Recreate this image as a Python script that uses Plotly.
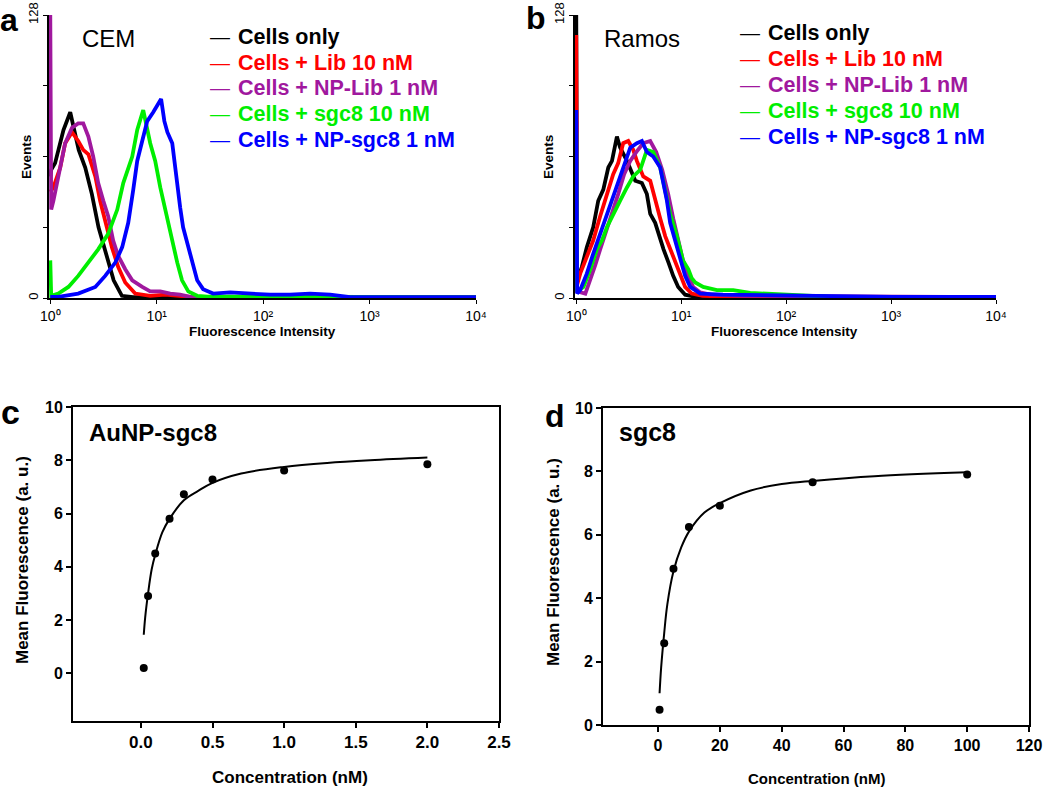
import plotly.graph_objects as go

# ---------------- Data ----------------
SERIES_NAMES = ["Cells only", "Cells + Lib 10 nM", "Cells + NP-Lib 1 nM",
                "Cells + sgc8 10 nM", "Cells + NP-sgc8 1 nM"]
SERIES_COLORS = ["#000000", "#ff0000", "#a0189e", "#00ee00", "#0000ff"]

# Panel a (CEM) histograms: fluorescence intensity vs events
A_X_BLACK = [1.0, 1.02, 1.11, 1.24, 1.33, 1.54, 1.85, 2.13, 2.46, 2.84, 3.28, 3.94, 4.71, 6.0, 10000]
A_Y_BLACK = [55, 58, 61, 70, 76, 84, 67, 59, 47, 32, 22, 8, 1, 0.4, 0.4]
A_X_RED = [1.0, 1.07, 1.24, 1.38, 1.60, 1.83, 2.04, 2.28, 2.65, 2.94, 3.40, 3.79, 4.35, 5.06, 6.28, 8.69, 12.0, 17.0, 22.0, 10000]
A_Y_RED = [48, 50, 59, 70, 75, 71, 67, 65, 55, 44, 32, 23, 14, 7, 2, 1, 1.5, 1, 0.4, 0.4]
A_X_PURPLE = [1.0, 1.02, 1.07, 1.19, 1.38, 1.60, 1.83, 2.04, 2.28, 2.53, 2.82, 3.15, 3.50, 3.90, 4.35, 5.06, 5.89, 7.31, 8.69, 10.8, 13.4, 16.6, 20.6, 10000]
A_Y_PURPLE = [128, 40, 44, 55, 70, 77, 79, 79, 73, 64, 52, 44, 37, 26, 19, 13, 8, 5, 3, 3, 2, 1.5, 0.5, 0.4]
A_X_GREEN = [1.0, 1.02, 1.19, 1.48, 1.83, 2.28, 2.82, 3.50, 4.26, 4.85, 5.89, 6.56, 7.47, 8.69, 9.68, 10.8, 11.5, 12.6, 14.0, 15.6, 17.3, 19.8, 24.0, 30.0, 10000]
A_Y_GREEN = [17, 1, 2, 5, 10, 16, 22, 29, 40, 52, 64, 76, 85, 70, 62, 50, 44, 35, 26, 16, 8, 3, 1, 0.6, 0.4]
A_X_BLUE = [1.0, 1.19, 1.83, 2.65, 3.28, 4.08, 4.74, 5.40, 6.02, 6.56, 7.31, 8.15, 9.27, 11.0, 11.8, 12.6, 14.0, 15.6, 16.6, 17.7, 19.8, 21.5, 24.0, 27.3, 33.9, 49, 75.5, 116, 179, 276, 426, 564, 656, 10000]
A_Y_BLUE = [0.5, 0.5, 2, 5, 10, 16, 23, 34, 49, 62, 71, 80, 84, 90, 80, 75, 70, 50, 41, 32, 23, 16, 8, 4, 2, 2.5, 2, 1.5, 1.5, 2, 1.5, 1, 0.4, 0.4]

# Panel b (Ramos) histograms
B_X_BLACK = [1.0, 1.02, 1.13, 1.26, 1.45, 1.62, 1.81, 2.02, 2.19, 2.44, 2.62, 3.04, 3.65, 4.22, 4.71, 5.07, 5.65, 6.31, 6.79, 7.57, 8.39, 9.36, 10.9, 14, 10000]
B_Y_BLACK = [128, 8, 14, 23, 32, 44, 49, 59, 62, 73, 68, 62, 53, 52, 47, 38, 34, 26, 22, 16, 10, 5, 1.5, 0.4, 0.4]
B_X_RED = [1.0, 1.02, 1.09, 1.26, 1.45, 1.69, 1.96, 2.25, 2.51, 2.80, 3.13, 3.49, 3.78, 4.35, 5.07, 5.65, 6.31, 7.04, 7.85, 8.77, 9.78, 10.9, 12.6, 16, 30, 10000]
B_Y_RED = [119, 6, 11, 19, 26, 37, 47, 56, 61, 70, 71, 67, 62, 55, 53, 44, 36, 28, 22, 16, 10, 5, 2, 1, 0.5, 0.4]
B_X_PURPLE = [1.0, 1.02, 1.22, 1.36, 1.52, 1.69, 1.93, 2.20, 2.51, 2.86, 3.27, 3.73, 4.35, 5.07, 5.78, 6.59, 7.52, 8.39, 9.36, 10.4, 11.7, 13.0, 15.2, 18.9, 40, 150, 300, 10000]
B_Y_PURPLE = [80, 3, 2, 8, 15, 22, 30, 38, 47, 56, 62, 66, 70, 71, 66, 58, 47, 36, 26, 17, 10, 5, 2.5, 1.5, 1, 0.8, 0.5, 0.4]
B_X_GREEN = [1.0, 1.02, 1.17, 1.36, 1.57, 1.76, 1.96, 2.25, 2.62, 3.04, 3.49, 4.07, 4.71, 5.41, 6.31, 7.31, 7.85, 9.10, 9.78, 10.4, 11.7, 12.6, 13.6, 16.2, 21.9, 31.3, 45.4, 93.5, 136, 250, 10000]
B_Y_GREEN = [75, 3, 5, 13, 22, 26, 32, 38, 44, 50, 55, 58, 67, 66, 59, 45, 38, 28, 22, 17, 13, 9, 7, 5, 3.6, 3.6, 2.3, 1.5, 1, 0.6, 0.4]
B_X_BLUE = [1.0, 1.02, 1.09, 1.26, 1.45, 1.69, 1.96, 2.25, 2.62, 2.93, 3.27, 3.78, 4.22, 4.71, 5.41, 6.31, 7.31, 7.85, 8.77, 9.36, 10.2, 10.9, 12.2, 15.2, 25, 60, 150, 400, 1000, 10000]
B_Y_BLUE = [85, 2, 3.6, 11, 20, 29, 38, 47, 55, 62, 68, 70, 71, 66, 64, 59, 44, 34, 26, 20, 14, 10, 5, 2, 1.5, 1.2, 1, 0.7, 0.5, 0.5]

HIST_TICKVALS = [1, 10, 100, 1000, 10000]
HIST_TICKTEXT = ["10\u2070", "10\u00b9", "10\u00b2", "10\u00b3", "10\u2074"]
EVENT_TICKVALS = [0, 128]
EVENT_TICKTEXT = ["0", "128"]
EVENT_MINOR_TICKS = [32, 64, 96]

# Panel c (AuNP-sgc8) binding data and fitted curve
C_CONC = [0.02, 0.05, 0.1, 0.2, 0.3, 0.5, 1.0, 2.0]
C_FLUOR = [0.2, 2.9, 4.5, 5.8, 6.72, 7.28, 7.62, 7.85]
C_FIT_X = [0.02, 0.03, 0.05, 0.075, 0.1, 0.15, 0.2, 0.3, 0.4, 0.5, 0.7, 1.0, 1.3, 1.6, 2.0]
C_FIT_Y = [1.45, 2.1, 3.0, 3.9, 4.45, 5.3, 5.8, 6.5, 6.85, 7.15, 7.5, 7.75, 7.9, 8.0, 8.1]
C_XTICKS = [0.0, 0.5, 1.0, 1.5, 2.0, 2.5]
C_XTICKTEXT = ["0.0", "0.5", "1.0", "1.5", "2.0", "2.5"]

# Panel d (sgc8) binding data and fitted curve
D_CONC = [0.5, 2, 5, 10, 20, 50, 100]
D_FLUOR = [0.48, 2.58, 4.93, 6.25, 6.92, 7.66, 7.9]
D_FIT_X = [0.5, 1, 2, 3, 5, 7.5, 10, 15, 20, 30, 40, 50, 70, 100]
D_FIT_Y = [1.0, 1.8, 2.9, 3.8, 4.85, 5.6, 6.1, 6.7, 7.0, 7.4, 7.6, 7.7, 7.85, 7.97]
D_XTICKS = [0, 20, 40, 60, 80, 100, 120]
FL_YTICKS = [0, 2, 4, 6, 8, 10]

# ---------------- Figure ----------------
W, H = 1050, 789
def px_x(a, b):
    return [a / W, b / W]
def px_y(top, bottom):
    return [1 - bottom / H, 1 - top / H]

fig = go.Figure()

hist_a = [(A_X_BLACK, A_Y_BLACK), (A_X_RED, A_Y_RED), (A_X_PURPLE, A_Y_PURPLE),
          (A_X_GREEN, A_Y_GREEN), (A_X_BLUE, A_Y_BLUE)]
hist_b = [(B_X_BLACK, B_Y_BLACK), (B_X_RED, B_Y_RED), (B_X_PURPLE, B_Y_PURPLE),
          (B_X_GREEN, B_Y_GREEN), (B_X_BLUE, B_Y_BLUE)]

for (xs, ys), name, col in zip(hist_a, SERIES_NAMES, SERIES_COLORS):
    fig.add_trace(go.Scatter(x=xs, y=ys, mode="lines", name=name,
                             line=dict(color=col, width=3.8),
                             xaxis="x", yaxis="y", showlegend=False))
for (xs, ys), name, col in zip(hist_b, SERIES_NAMES, SERIES_COLORS):
    fig.add_trace(go.Scatter(x=xs, y=ys, mode="lines", name=name,
                             line=dict(color=col, width=3.8),
                             xaxis="x2", yaxis="y2", showlegend=False))

fig.add_trace(go.Scatter(x=C_FIT_X, y=C_FIT_Y, mode="lines", line=dict(color="black", width=2, shape="spline"),
                         xaxis="x3", yaxis="y3", showlegend=False))
fig.add_trace(go.Scatter(x=C_CONC, y=C_FLUOR, mode="markers", marker=dict(color="black", size=8),
                         xaxis="x3", yaxis="y3", showlegend=False))
fig.add_trace(go.Scatter(x=D_FIT_X, y=D_FIT_Y, mode="lines", line=dict(color="black", width=2, shape="spline"),
                         xaxis="x4", yaxis="y4", showlegend=False))
fig.add_trace(go.Scatter(x=D_CONC, y=D_FLUOR, mode="markers", marker=dict(color="black", size=8),
                         xaxis="x4", yaxis="y4", showlegend=False))

SANS = "Liberation Sans, Arial, sans-serif"
NARROW = "Liberation Sans Narrow, Arial Narrow, Liberation Sans, Arial, sans-serif"

hist_x_common = dict(type="log", range=[-0.012, 4], showline=True, linecolor="black", linewidth=1.5,
                     ticks="outside", ticklen=4, tickcolor="black", tickvals=HIST_TICKVALS,
                     ticktext=HIST_TICKTEXT, tickfont=dict(family=NARROW, size=14, color="black"),
                     showgrid=False, zeroline=False, layer="below traces", automargin=False)
hist_y_common = dict(range=[0, 128], showline=True, linecolor="black", linewidth=1.5,
                     ticks="outside", ticklen=4, tickcolor="black", tickvals=EVENT_TICKVALS,
                     ticktext=EVENT_TICKTEXT, tickangle=-90,
                     minor=dict(tickvals=EVENT_MINOR_TICKS, ticks="outside", ticklen=4, tickcolor="black"),
                     tickfont=dict(family=NARROW, size=13, color="black"),
                     showgrid=False, zeroline=False, layer="below traces", automargin=False)
fit_x_common = dict(showline=True, linecolor="black", linewidth=2, mirror=True,
                    ticks="outside", ticklen=5, tickcolor="black", tickwidth=1.5,
                    showgrid=False, zeroline=False, automargin=False)
fit_y_common = dict(showline=True, linecolor="black", linewidth=2, mirror=True,
                    ticks="outside", ticklen=5, tickcolor="black", tickwidth=1.5,
                    showgrid=False, zeroline=False, tickvals=FL_YTICKS, automargin=False)

fig.update_layout(
    width=W, height=H, margin=dict(l=0, r=0, t=0, b=0, autoexpand=False),
    paper_bgcolor="white", plot_bgcolor="white", showlegend=False,
    xaxis=dict(domain=px_x(49, 476), anchor="y", **hist_x_common),
    yaxis=dict(domain=px_y(15, 298), anchor="x", **hist_y_common),
    xaxis2=dict(domain=px_x(575, 996), anchor="y2", **hist_x_common),
    yaxis2=dict(domain=px_y(15, 298), anchor="x2", **hist_y_common),
    xaxis3=dict(domain=px_x(73, 499), anchor="y3", range=[-0.474, 2.5], tickvals=C_XTICKS,
                ticktext=C_XTICKTEXT, tickfont=dict(family=SANS, size=17, color="black", weight="bold"),
                **fit_x_common),
    yaxis3=dict(domain=px_y(407, 721), anchor="x3", range=[-1.79, 10],
                tickfont=dict(family=SANS, size=16, color="black", weight="bold"), **fit_y_common),
    xaxis4=dict(domain=px_x(603, 1029), anchor="y4", range=[-17.8, 120], tickvals=D_XTICKS,
                tickfont=dict(family=SANS, size=16, color="black", weight="bold"), **fit_x_common),
    yaxis4=dict(domain=px_y(408, 725), anchor="x4", range=[0, 10],
                tickfont=dict(family=SANS, size=16, color="black", weight="bold"), **fit_y_common),
)

ann = []
def text(x, y, s, size, bold=False, family=SANS, color="black", xanchor="center", angle=0):
    ann.append(dict(x=x / W, y=1 - y / H, xref="paper", yref="paper", text=s, showarrow=False,
                    xanchor=xanchor, yanchor="middle", textangle=angle, borderpad=0,
                    font=dict(family=family, size=size, color=color, weight="bold" if bold else "normal")))

# panel letters
text(9, 20, "a", 32, bold=True)
text(536, 18, "b", 32, bold=True)
text(10, 412, "c", 34, bold=True)
text(555, 416, "d", 32, bold=True)

# cell-line labels
text(81, 38, "CEM", 24, xanchor="left")
text(603, 38, "Ramos", 24, xanchor="left")

# legends
rows_a = [37, 63, 88, 114, 140]
rows_b = [33, 59, 85, 111, 137]
for name, col, ya, yb in zip(SERIES_NAMES, SERIES_COLORS, rows_a, rows_b):
    text(220, ya, "\u2014", 20, color=col)
    text(237, ya, name, 21.5, bold=True, color=col, xanchor="left")
    text(750, yb, "\u2014", 20, color=col)
    text(767, yb, name, 21.5, bold=True, color=col, xanchor="left")

# histogram axis titles
text(262, 331, "Fluorescence Intensity", 13.5, bold=True, family=NARROW)
text(784, 331, "Fluorescence Intensity", 13.5, bold=True, family=NARROW)
text(27, 157, "Events", 13.5, bold=True, family=NARROW, angle=-90)
text(549, 157, "Events", 13.5, bold=True, family=NARROW, angle=-90)

# binding panels texts
text(88, 433, "AuNP-sgc8", 24, bold=True, xanchor="left")
text(618, 432, "sgc8", 25, bold=True, xanchor="left")
text(22, 560, "Mean Fluorescence (a. u.)", 17, bold=True, angle=-90)
text(553, 562, "Mean Fluorescence (a. u.)", 17, bold=True, angle=-90)
text(290, 777, "Concentration (nM)", 17, bold=True)
text(816, 778, "Concentration (nM)", 15, bold=True, family=NARROW)

fig.update_layout(annotations=ann)
fig.write_html("out.html", config={"displayModeBar": False},
               post_script="document.body.style.margin='0';document.body.style.overflow='hidden';")
